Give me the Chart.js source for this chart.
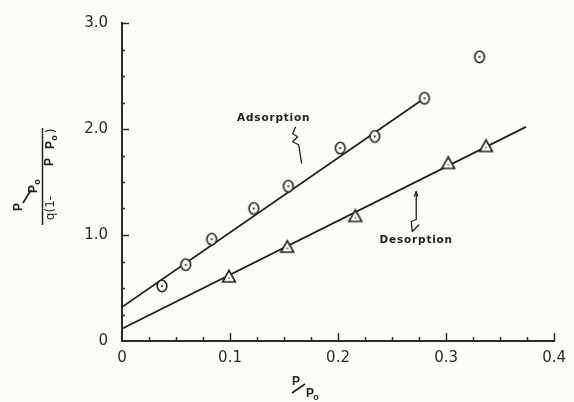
<!DOCTYPE html>
<html>
<head>
<meta charset="utf-8">
<script src="https://cdn.jsdelivr.net/npm/chart.js@4/dist/chart.umd.min.js"></script>
<style>
  html, body { margin: 0; padding: 0; background: #fcfcf7; }
  #wrap { width: 574px; height: 402px; }
</style>
</head>
<body>
<div id="wrap"><canvas id="c" width="574" height="402"></canvas></div>
<script>
// Measured points: P/P0 against (P/P0) / (q(1 - P/P0))
const adsorptionX = [0.037, 0.059, 0.083, 0.122, 0.154, 0.202, 0.234, 0.280, 0.331];
const adsorptionY = [0.52, 0.72, 0.96, 1.25, 1.46, 1.82, 1.93, 2.29, 2.68];
const desorptionX = [0.099, 0.153, 0.216, 0.302, 0.337];
const desorptionY = [0.61, 0.89, 1.18, 1.68, 1.84];

// Straight-line fits (end points)
const adsorptionFitX = [0, 0.28];
const adsorptionFitY = [0.32, 2.29];
const desorptionFitX = [0, 0.374];
const desorptionFitY = [0.115, 2.02];

// Axis ticks
const xTicks = [0, 0.1, 0.2, 0.3, 0.4];
const yTicks = [0, 1, 2, 3];

const BG = '#fcfcf7';
const INK = '#222222';

function pairs(xs, ys) { return xs.map((x, i) => ({ x: x, y: ys[i] })); }

// Marker glyphs: dotted circle and open triangle
function circleMarker() {
  const c = document.createElement('canvas');
  c.width = 14; c.height = 16;
  const g = c.getContext('2d');
  g.fillStyle = BG; g.strokeStyle = INK; g.lineWidth = 1.6;
  g.beginPath(); g.ellipse(7, 8, 4.8, 5.8, 0, 0, Math.PI * 2); g.fill(); g.stroke();
  g.fillStyle = INK; g.beginPath(); g.arc(7, 8, 1.1, 0, Math.PI * 2); g.fill();
  return c;
}
function triangleMarker() {
  const c = document.createElement('canvas');
  c.width = 16; c.height = 15;
  const g = c.getContext('2d');
  g.fillStyle = BG; g.strokeStyle = INK; g.lineWidth = 1.6;
  g.beginPath(); g.moveTo(8, 1.5); g.lineTo(14.4, 13); g.lineTo(1.6, 13); g.closePath(); g.fill(); g.stroke();
  g.fillStyle = '#555'; g.fillRect(7.3, 8.5, 1.4, 1.6);
  return c;
}

const background = {
  id: 'background',
  beforeDraw(chart) {
    const ctx = chart.ctx;
    ctx.save(); ctx.fillStyle = BG; ctx.fillRect(0, 0, chart.width, chart.height); ctx.restore();
  }
};

// Inward tick marks on both axes
const innerTicks = {
  id: 'innerTicks',
  afterDatasetsDraw(chart) {
    const ctx = chart.ctx, xs = chart.scales.x, ys = chart.scales.y;
    const a = chart.chartArea;
    ctx.save();
    ctx.strokeStyle = '#2a2a2a'; ctx.lineWidth = 1.5;
    for (let k = 1; k <= 16; k++) {
      const v = k * 0.025;
      const px = Math.round(xs.getPixelForValue(v)) + 0.5;
      const len = (k % 4 === 0) ? 8 : 4;
      ctx.beginPath(); ctx.moveTo(px, a.bottom); ctx.lineTo(px, a.bottom - len); ctx.stroke();
    }
    for (let k = 1; k <= 12; k++) {
      const v = k * 0.25;
      const py = Math.round(ys.getPixelForValue(v)) + 0.5;
      const len = (k % 4 === 0) ? 7 : 3;
      ctx.beginPath(); ctx.moveTo(a.left, py); ctx.lineTo(a.left + len, py); ctx.stroke();
    }
    ctx.restore();
  }
};

function rotText(ctx, text, x, y, font) {
  ctx.save();
  ctx.translate(x, y); ctx.rotate(-Math.PI / 2);
  ctx.font = font; ctx.textAlign = 'center'; ctx.textBaseline = 'middle';
  ctx.fillText(text, 0, 0);
  ctx.restore();
}

// Axis titles and curve labels
const titles = {
  id: 'titles',
  afterDraw(chart) {
    const ctx = chart.ctx, xs = chart.scales.x, ys = chart.scales.y;
    const B = 'bold 12px "Liberation Sans", Arial, sans-serif';
    const Bs = 'bold 9px "Liberation Sans", Arial, sans-serif';
    const R = '12px "DejaVu Sans", sans-serif';
    ctx.save();
    ctx.fillStyle = INK; ctx.strokeStyle = INK;

    // x title: P/P0
    ctx.font = B; ctx.textAlign = 'center'; ctx.textBaseline = 'middle';
    ctx.fillText('P', 296, 382);
    ctx.lineWidth = 1.7;
    ctx.beginPath(); ctx.moveTo(292, 393); ctx.lineTo(305, 384); ctx.stroke();
    ctx.fillText('P', 310, 394);
    ctx.font = Bs; ctx.fillText('o', 316, 398);

    // y title: (P/P0) / (q(1- P/P0)), rotated
    ctx.lineWidth = 1.5;
    ctx.beginPath(); ctx.moveTo(42.5, 128); ctx.lineTo(42.5, 225); ctx.stroke();
    rotText(ctx, 'P', 19, 207, B);
    ctx.lineWidth = 1.7;
    ctx.beginPath(); ctx.moveTo(23, 203); ctx.lineTo(31, 190); ctx.stroke();
    rotText(ctx, 'P', 34, 189, B);
    rotText(ctx, 'o', 38, 182, Bs);
    rotText(ctx, 'q(1-', 51, 208, R);
    rotText(ctx, 'P', 50, 162, B);
    rotText(ctx, 'P', 51, 145, B);
    rotText(ctx, 'o', 55, 138, Bs);
    rotText(ctx, ')', 52, 131, R);

    // curve labels with squiggle leaders, anchored in data space
    ctx.font = 'bold 10.5px "DejaVu Sans", sans-serif';
    ctx.letterSpacing = '0.8px';
    ctx.textAlign = 'center'; ctx.textBaseline = 'middle';
    const ax = xs.getPixelForValue(0.1404), ay = ys.getPixelForValue(2.097);
    ctx.fillText('Adsorption', ax, ay);
    const dx = xs.getPixelForValue(0.2724), dy = ys.getPixelForValue(0.948);
    ctx.fillText('Desorption', dx, dy);
    ctx.letterSpacing = '0px';

    ctx.lineWidth = 1.3; ctx.lineJoin = 'round';
    const aPath = [[22, 8], [19, 15], [24, 18], [19, 23], [25, 26], [28, 45]];
    ctx.beginPath();
    aPath.forEach((p, i) => { const fx = i ? 'lineTo' : 'moveTo'; ctx[fx](ax + p[0], ay + p[1]); });
    ctx.stroke();
    const dPath = [[0, -49], [0, -21], [-5, -19], [-4, -9], [3, -16]];
    ctx.beginPath();
    dPath.forEach((p, i) => { const fx = i ? 'lineTo' : 'moveTo'; ctx[fx](dx + p[0], dy + p[1]); });
    ctx.stroke();
    ctx.beginPath();
    ctx.moveTo(dx - 2, dy - 44); ctx.lineTo(dx, dy - 49); ctx.lineTo(dx + 1.5, dy - 44); ctx.stroke();
    ctx.restore();
  }
};

const tickFont = { family: '"DejaVu Sans", sans-serif', size: 15 };

new Chart(document.getElementById('c'), {
  type: 'scatter',
  data: {
    datasets: [
      { label: 'Adsorption', data: pairs(adsorptionX, adsorptionY), pointStyle: circleMarker(), pointRadius: 6, order: 0 },
      { label: 'Desorption', data: pairs(desorptionX, desorptionY), pointStyle: triangleMarker(), pointRadius: 6, order: 0 },
      { label: 'Adsorption fit', data: pairs(adsorptionFitX, adsorptionFitY), showLine: true, pointRadius: 0, borderColor: INK, borderWidth: 1.8, order: 1 },
      { label: 'Desorption fit', data: pairs(desorptionFitX, desorptionFitY), showLine: true, pointRadius: 0, borderColor: INK, borderWidth: 1.8, order: 1 }
    ]
  },
  options: {
    responsive: false,
    animation: false,
    events: [],
    layout: { padding: { left: 0, top: 15, right: 19, bottom: 0 } },
    plugins: { legend: { display: false }, tooltip: { enabled: false } },
    scales: {
      x: {
        type: 'linear', min: 0, max: 0.4,
        afterBuildTicks(s) { s.ticks = xTicks.map(v => ({ value: v })); },
        afterFit(s) { s.height = 61; },
        grid: { display: true, drawOnChartArea: false, drawTicks: false },
        border: { display: true, color: '#2a2a2a', width: 2 },
        ticks: { padding: 8, color: '#2b2b2b', font: tickFont, maxRotation: 0,
                 callback: v => v === 0 ? '0' : v.toFixed(1) }
      },
      y: {
        type: 'linear', min: 0, max: 3,
        afterBuildTicks(s) { s.ticks = yTicks.map(v => ({ value: v })); },
        afterFit(s) { s.width = 122; },
        grid: { display: true, drawOnChartArea: false, drawTicks: false },
        border: { display: true, color: '#2a2a2a', width: 2 },
        ticks: { padding: 14, color: '#2b2b2b', font: tickFont,
                 callback: v => v === 0 ? '0' : v.toFixed(1) }
      }
    }
  },
  plugins: [background, innerTicks, titles]
});
</script>
</body>
</html>
